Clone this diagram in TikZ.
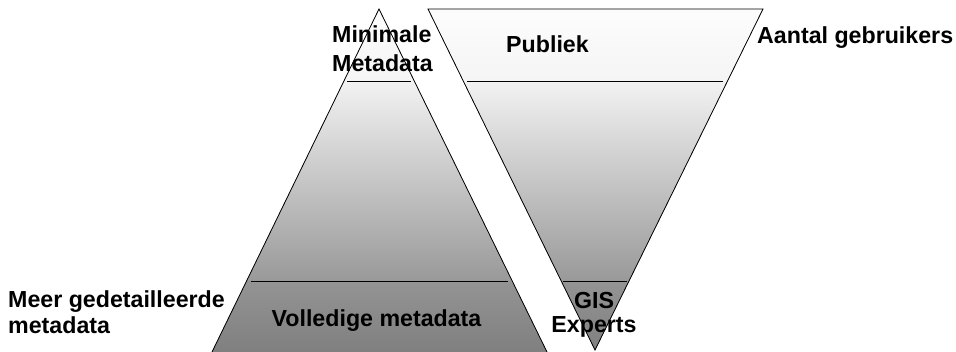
\documentclass[tikz,border=0pt]{standalone}
\usepackage{fontspec}
\setmainfont{Liberation Sans}
\definecolor{gA}{gray}{0.99}
\definecolor{gB}{gray}{0.96}
\definecolor{gC}{gray}{0.95}
\definecolor{gD}{gray}{0.60}
\definecolor{gE}{gray}{0.58}
\definecolor{gF}{gray}{0.50}
\begin{document}
\begin{tikzpicture}[x=1pt,y=-1pt,
  edge/.style={draw=black,line width=0.8pt},
  lbl/.style={font=\fontsize{23.2}{27}\selectfont\bfseries,inner sep=0pt,text=black}]
\useasboundingbox (0,0) rectangle (956,351);
% coordinates
\coordinate (pA) at (379,9);
\coordinate (pL) at (212,352);
\coordinate (pR) at (547,352);
\coordinate (iL) at (428,9);
\coordinate (iR) at (763,9);
\coordinate (iB) at (595,350);
% fills in bands
\begin{scope}
  \clip (pL) -- (pA) -- (pR) -- cycle;
  \fill[top color=gA,bottom color=gB] (150,8) rectangle (600,81);
  \fill[top color=gC,bottom color=gD] (150,81) rectangle (600,281);
  \fill[top color=gE,bottom color=gF] (150,281) rectangle (600,352);
\end{scope}
\begin{scope}
  \clip (iL) -- (iR) -- (iB) -- cycle;
  \fill[top color=gA,bottom color=gB] (400,8) rectangle (800,81);
  \fill[top color=gC,bottom color=gD] (400,81) rectangle (800,281);
  \fill[top color=gE,bottom color=gF] (400,281) rectangle (800,352);
\end{scope}
% outlines
\draw[edge] (pL) -- (pA) -- (pR);
\draw[edge] (iL) -- (iR) -- (iB) -- cycle;
% divider lines
\coordinate (a1) at (347,81); \coordinate (a2) at (411,81);
\coordinate (b1) at (251,281); \coordinate (b2) at (508,281);
\coordinate (c1) at (467,81); \coordinate (c2) at (723,81);
\coordinate (d1) at (563,281); \coordinate (d2) at (627,281);
\draw[edge] (a1) -- (a2);
\draw[edge] (b1) -- (b2);
\draw[edge] (c1) -- (c2);
\draw[edge] (d1) -- (d2);
% labels
\node[lbl,anchor=base west] (min) at (332,42) {Minimale};
\node[lbl,anchor=base west] (met) at (332,71) {Metadata};
\node[lbl,anchor=base] (pub) at (547.5,52) {Publiek};
\node[lbl,anchor=base west] (aan) at (757,43) {Aantal gebruikers};
\node[lbl,anchor=base west] (mg1) at (8,307) {Meer gedetailleerde};
\node[lbl,anchor=base west] (mg2) at (8,333) {metadata};
\node[lbl,anchor=base] (vol) at (376.5,326) {Volledige metadata};
\node[lbl,anchor=base] (gis) at (594,308) {GIS};
\node[lbl,anchor=base] (exp) at (594,332) {Experts};
\end{tikzpicture}
\end{document}
